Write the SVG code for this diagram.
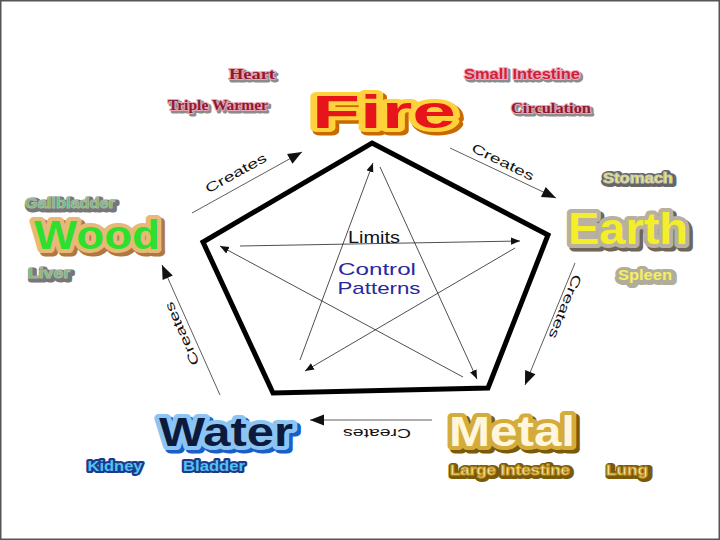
<svg xmlns="http://www.w3.org/2000/svg" width="720" height="540" viewBox="0 0 720 540">
<defs>
<style>
.big{font-family:"Liberation Sans",Arial,sans-serif;font-weight:bold;text-anchor:middle;stroke-linejoin:round}
.lbl{font-family:"Liberation Sans",Arial,sans-serif;font-weight:bold;text-anchor:middle;stroke-linejoin:round;font-size:14px}
.ser{font-family:"Liberation Serif","Times New Roman",serif;font-weight:bold;text-anchor:middle;stroke-linejoin:round;font-size:15px}
.sh{fill:#8c8c8c;stroke:#8c8c8c;stroke-width:3}
.red{fill:#8e1a30;stroke:#e8a8b8;stroke-width:2;paint-order:stroke}
.cr{font-family:"Liberation Sans",Arial,sans-serif;font-size:13px;fill:#111;text-anchor:middle}
.thin{stroke:#222;stroke-width:0.8;fill:none}
.cline{stroke:#333;stroke-width:0.8;fill:none}
</style>
<marker id="sa" viewBox="0 0 10 10" refX="10" refY="5" markerWidth="9" markerHeight="9" markerUnits="userSpaceOnUse" orient="auto">
<path d="M0,1 L10,5 L0,9 Z" fill="#111"/>
</marker>
<marker id="ca" viewBox="0 0 10 10" refX="10" refY="5" markerWidth="16" markerHeight="14" markerUnits="userSpaceOnUse" orient="auto">
<path d="M0,1 L10,5 L0,9 Z" fill="#111"/>
</marker>
</defs>
<rect x="0" y="0" width="720" height="540" fill="#fff"/>
<rect x="0.75" y="0.75" width="718.5" height="538.5" fill="none" stroke="#555" stroke-width="1.5"/>

<g id="pentagon">
<polygon points="372,143 548,235 488,388 273,393 203,242" fill="none" stroke="#000" stroke-width="5" stroke-linejoin="miter"/>
</g>

<g id="connectors">
<line class="thin" x1="240" y1="246" x2="520" y2="241" marker-end="url(#sa)"/>
<line class="thin" x1="463" y1="377" x2="220" y2="246" marker-end="url(#sa)"/>
<line class="thin" x1="300" y1="360" x2="373" y2="163" marker-end="url(#sa)"/>
<line class="thin" x1="380" y1="167" x2="477" y2="379" marker-end="url(#sa)"/>
<line class="thin" x1="515" y1="248" x2="305" y2="371" marker-end="url(#sa)"/>

<line class="cline" x1="192" y1="213" x2="302" y2="152" marker-end="url(#ca)"/>
<line class="cline" x1="450" y1="148" x2="556" y2="198" marker-end="url(#ca)"/>
<line class="cline" x1="575" y1="263" x2="525" y2="385" marker-end="url(#ca)"/>
<line class="cline" x1="432" y1="420" x2="310" y2="420" marker-end="url(#ca)"/>
<line class="cline" x1="220" y1="395" x2="162" y2="265" marker-end="url(#ca)"/>
</g>

<g id="connector-labels">
<text class="cr" transform="translate(238,177) rotate(-29)" x="0" y="0" textLength="68" lengthAdjust="spacingAndGlyphs">Creates</text>
<text class="cr" transform="translate(501,166) rotate(26)" x="0" y="0" textLength="68" lengthAdjust="spacingAndGlyphs">Creates</text>
<text class="cr" transform="translate(561,305) rotate(112)" x="0" y="0" textLength="68" lengthAdjust="spacingAndGlyphs">Creates</text>
<text class="cr" transform="translate(377,421) rotate(180)" x="0" y="-8" textLength="68" lengthAdjust="spacingAndGlyphs">Creates</text>
<text class="cr" transform="translate(186,332) rotate(-114)" x="0" y="0" textLength="68" lengthAdjust="spacingAndGlyphs">Creates</text>
</g>

<g id="center">
<text x="374" y="243" style="font-family:'Liberation Sans',Arial,sans-serif;font-size:17px;fill:#111;text-anchor:middle" textLength="52" lengthAdjust="spacingAndGlyphs">Limits</text>
<text x="377" y="275" style="font-family:'Liberation Sans',Arial,sans-serif;font-size:17px;fill:#2828a0;text-anchor:middle" textLength="78" lengthAdjust="spacingAndGlyphs">Control</text>
<text x="379" y="294" style="font-family:'Liberation Sans',Arial,sans-serif;font-size:17px;fill:#2828a0;text-anchor:middle" textLength="83" lengthAdjust="spacingAndGlyphs">Patterns</text>
</g>

<g id="fire">
<text class="big" x="387" y="131" font-size="46" textLength="144" lengthAdjust="spacingAndGlyphs" style="fill:#c86a00;stroke:#c86a00;stroke-width:9">Fire</text>
<text class="big" x="384" y="128" font-size="46" textLength="144" lengthAdjust="spacingAndGlyphs" style="fill:#f2b400;stroke:#ffd23c;stroke-width:8">Fire</text>
<text class="big" x="384" y="128" font-size="46" textLength="144" lengthAdjust="spacingAndGlyphs" style="fill:#e8141c">Fire</text>
</g>
<g id="heart">
<text class="ser sh" x="254" y="81" textLength="46" lengthAdjust="spacingAndGlyphs">Heart</text>
<text class="ser red" x="252" y="79" textLength="46" lengthAdjust="spacingAndGlyphs">Heart</text>
</g>
<g id="triple-warmer">
<text class="ser sh" x="220" y="112" font-size="14" textLength="100" lengthAdjust="spacingAndGlyphs">Triple Warmer</text>
<text class="ser red" x="218" y="110" font-size="14" textLength="100" lengthAdjust="spacingAndGlyphs">Triple Warmer</text>
</g>
<g id="small-intestine">
<text class="lbl sh" x="524" y="81" textLength="116" lengthAdjust="spacingAndGlyphs">Small Intestine</text>
<text class="lbl" x="522" y="79" textLength="116" lengthAdjust="spacingAndGlyphs" style="fill:#d0203a;stroke:#f0b0c0;stroke-width:2;paint-order:stroke">Small Intestine</text>
</g>
<g id="circulation">
<text class="ser sh" x="553" y="115" font-size="14" textLength="80" lengthAdjust="spacingAndGlyphs">Circulation</text>
<text class="ser red" x="551" y="113" font-size="14" textLength="80" lengthAdjust="spacingAndGlyphs">Circulation</text>
</g>

<g id="earth">
<text class="big" x="631" y="247" font-size="44" textLength="120" lengthAdjust="spacingAndGlyphs" style="fill:#6e6658;stroke:#6e6658;stroke-width:9">Earth</text>
<text class="big" x="628" y="244" font-size="44" textLength="120" lengthAdjust="spacingAndGlyphs" style="fill:#b8b0a0;stroke:#b8b0a0;stroke-width:8">Earth</text>
<text class="big" x="628" y="244" font-size="44" textLength="120" lengthAdjust="spacingAndGlyphs" style="fill:#f4ee2a">Earth</text>
</g>
<g id="stomach">
<text class="lbl" x="639" y="184" textLength="70" lengthAdjust="spacingAndGlyphs" style="fill:#666;stroke:#666;stroke-width:6">Stomach</text>
<text class="lbl" x="638" y="183" textLength="70" lengthAdjust="spacingAndGlyphs" style="fill:#f0f050;stroke:#c8c8b8;stroke-width:1">Stomach</text>
</g>
<g id="spleen">
<text class="lbl" x="646" y="281" font-size="13" textLength="54" lengthAdjust="spacingAndGlyphs" style="fill:#9a9680;stroke:#b0ad98;stroke-width:8">Spleen</text>
<text class="lbl" x="645" y="280" font-size="13" textLength="54" lengthAdjust="spacingAndGlyphs" style="fill:#f6f060">Spleen</text>
</g>

<g id="wood">
<text class="big" x="100" y="252" font-size="40" textLength="126" lengthAdjust="spacingAndGlyphs" style="fill:#b07840;stroke:#b07840;stroke-width:9">Wood</text>
<text class="big" x="97" y="249" font-size="40" textLength="126" lengthAdjust="spacingAndGlyphs" style="fill:#e8c088;stroke:#e8b878;stroke-width:8">Wood</text>
<text class="big" x="97" y="249" font-size="40" textLength="126" lengthAdjust="spacingAndGlyphs" style="fill:#2ee02e">Wood</text>
</g>
<g id="gallbladder">
<text class="lbl" x="72" y="210" textLength="90" lengthAdjust="spacingAndGlyphs" style="fill:#777;stroke:#777;stroke-width:5">Gallbladder</text>
<text class="lbl" x="70" y="208" textLength="90" lengthAdjust="spacingAndGlyphs" style="fill:#52c852;stroke:#a8b8a8;stroke-width:1">Gallbladder</text>
</g>
<g id="liver">
<text class="lbl" x="51" y="280" textLength="42" lengthAdjust="spacingAndGlyphs" style="fill:#777;stroke:#777;stroke-width:5">Liver</text>
<text class="lbl" x="49" y="278" textLength="42" lengthAdjust="spacingAndGlyphs" style="fill:#52c852;stroke:#a8b8a8;stroke-width:1">Liver</text>
</g>

<g id="water">
<text class="big" x="229" y="449" font-size="40" textLength="134" lengthAdjust="spacingAndGlyphs" style="fill:#1a5ec8;stroke:#1a5ec8;stroke-width:9">Water</text>
<text class="big" x="226" y="446" font-size="40" textLength="134" lengthAdjust="spacingAndGlyphs" style="fill:#5aa8f0;stroke:#8cc4f4;stroke-width:8">Water</text>
<text class="big" x="226" y="446" font-size="40" textLength="134" lengthAdjust="spacingAndGlyphs" style="fill:#0c1a3c">Water</text>
</g>
<g id="kidney">
<text class="lbl" x="115" y="471" textLength="55" lengthAdjust="spacingAndGlyphs" style="fill:#1a3a8a;stroke:#1a3a8a;stroke-width:4">Kidney</text>
<text class="lbl" x="115" y="471" textLength="55" lengthAdjust="spacingAndGlyphs" style="fill:#56c0f4">Kidney</text>
</g>
<g id="bladder">
<text class="lbl" x="214" y="471" textLength="62" lengthAdjust="spacingAndGlyphs" style="fill:#1a3a8a;stroke:#1a3a8a;stroke-width:4">Bladder</text>
<text class="lbl" x="214" y="471" textLength="62" lengthAdjust="spacingAndGlyphs" style="fill:#56c0f4">Bladder</text>
</g>

<g id="metal">
<text class="big" x="515" y="449" font-size="42" textLength="126" lengthAdjust="spacingAndGlyphs" style="fill:#7a5a08;stroke:#7a5a08;stroke-width:9">Metal</text>
<text class="big" x="512" y="446" font-size="42" textLength="126" lengthAdjust="spacingAndGlyphs" style="fill:#c8a030;stroke:#d4ac3c;stroke-width:8">Metal</text>
<text class="big" x="512" y="446" font-size="42" textLength="126" lengthAdjust="spacingAndGlyphs" style="fill:#fff6dc">Metal</text>
</g>
<g id="large-intestine">
<text class="lbl" x="511" y="476" textLength="120" lengthAdjust="spacingAndGlyphs" style="fill:#7a5a08;stroke:#7a5a08;stroke-width:6">Large Intestine</text>
<text class="lbl" x="510" y="475" textLength="120" lengthAdjust="spacingAndGlyphs" style="fill:#f8eec0;stroke:#c89c28;stroke-width:1">Large Intestine</text>
</g>
<g id="lung">
<text class="lbl" x="629" y="476" textLength="42" lengthAdjust="spacingAndGlyphs" style="fill:#7a5a08;stroke:#7a5a08;stroke-width:6">Lung</text>
<text class="lbl" x="627" y="475" textLength="42" lengthAdjust="spacingAndGlyphs" style="fill:#f8eec0;stroke:#c89c28;stroke-width:1">Lung</text>
</g>
</svg>
